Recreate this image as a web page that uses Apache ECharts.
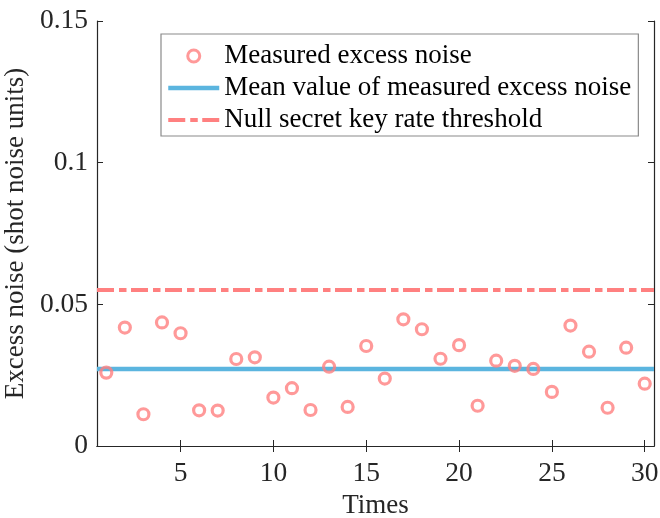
<!DOCTYPE html>
<html>
<head>
<meta charset="utf-8">
<script src="https://cdn.jsdelivr.net/npm/echarts@6/dist/echarts.min.js"></script>
<style>
  html, body { margin: 0; padding: 0; background: #fff; }
  #chart { width: 660px; height: 518px; }
</style>
</head>
<body>
<div id="chart"></div>
<script>
  // measurement index and measured excess noise (SNU)
  const times = [1, 2, 3, 4, 5, 6, 7, 8, 9, 10, 11, 12, 13, 14, 15,
    16, 17, 18, 19, 20, 21, 22, 23, 24, 25, 26, 27, 28, 29, 30];
  const excessNoise = [
    0.0259, 0.0418, 0.0112, 0.0436, 0.0398, 0.0126, 0.0125, 0.0307, 0.0313, 0.0171,
    0.0204, 0.0127, 0.0280, 0.0138, 0.0353, 0.0238, 0.0447, 0.0412, 0.0308, 0.0356,
    0.0142, 0.0301, 0.0283, 0.0272, 0.0191, 0.0425, 0.0333, 0.0135, 0.0347, 0.0220,
  ];
  const meanNoise = 0.0272;
  const nullKeyThreshold = 0.0551;
  const xRange = [0.5, 30.5];
  const xTicks = [5, 10, 15, 20, 25, 30];

  const names = [
    'Measured excess noise',
    'Mean value of measured excess noise',
    'Null secret key rate threshold',
  ];

  const red = '#FF8080';
  const blue = '#5BB5DF';
  const ink = '#262626';
  const font = "'Liberation Serif', 'DejaVu Serif', serif";

  const chart = echarts.init(document.getElementById('chart'));

  const axisLine = { show: true, lineStyle: { color: ink, width: 1.2 } };
  const tick = { show: true, inside: true, length: 6, lineStyle: { color: ink, width: 1 } };
  const noDot = { color: 'rgba(0,0,0,0)', borderWidth: 0 };
  const dashDot = [17, 5, 7.5, 4.5];

  const option = {
    animation: false,
    textStyle: { fontFamily: font },
    grid: { left: 97, right: 6, top: 21, bottom: 72, containLabel: false, outerBoundsMode: 'none' },
    legend: {
      orient: 'vertical',
      left: 161,
      top: 34,
      itemWidth: 51,
      itemHeight: 12,
      itemGap: 2,
      padding: [7, 7, 1, 5],
      borderColor: '#8a8a8a',
      borderWidth: 1.2,
      backgroundColor: '#fff',
      textStyle: { fontFamily: font, fontSize: 27, color: '#000', lineHeight: 30 },
      data: [
        { name: names[0], icon: 'circle', itemStyle: { color: 'rgba(0,0,0,0)', borderColor: red, borderWidth: 3 } },
        { name: names[1], itemStyle: noDot, lineStyle: { color: blue, width: 4.5 } },
        { name: names[2], itemStyle: noDot, lineStyle: { color: red, width: 4, type: dashDot } },
      ],
    },
    xAxis: [
      {
        type: 'value',
        min: xRange[0],
        max: xRange[1],
        name: 'Times',
        nameLocation: 'middle',
        nameGap: 46,
        nameTextStyle: { fontFamily: font, fontSize: 27, color: ink },
        axisLine: axisLine,
        axisTick: Object.assign({ customValues: xTicks }, tick),
        axisLabel: { customValues: xTicks, fontFamily: font, fontSize: 27.5, color: ink, margin: 14 },
        splitLine: { show: false },
      },
      {
        type: 'value',
        position: 'top',
        min: xRange[0],
        max: xRange[1],
        axisLine: axisLine,
        axisTick: Object.assign({ customValues: xTicks }, tick),
        axisLabel: { show: false },
        splitLine: { show: false },
      },
    ],
    yAxis: [
      {
        type: 'value',
        min: 0,
        max: 0.15,
        interval: 0.05,
        name: 'Excess noise (shot noise units)',
        nameLocation: 'middle',
        nameGap: 63,
        nameTextStyle: { fontFamily: font, fontSize: 27, color: ink },
        axisLine: axisLine,
        axisTick: tick,
        axisLabel: { fontFamily: font, fontSize: 27.5, color: ink, margin: 9 },
        splitLine: { show: false },
      },
      {
        type: 'value',
        position: 'right',
        min: 0,
        max: 0.15,
        interval: 0.05,
        axisLine: axisLine,
        axisTick: tick,
        axisLabel: { show: false },
        splitLine: { show: false },
      },
    ],
    series: [
      {
        name: names[0],
        type: 'scatter',
        z: 5,
        symbol: 'circle',
        symbolSize: 11,
        itemStyle: { color: 'rgba(0,0,0,0)', borderColor: red, borderWidth: 3.2 },
        data: times.map((t, i) => [t, excessNoise[i]]),
      },
      {
        name: names[1],
        type: 'line',
        z: 3,
        symbol: 'none',
        color: blue,
        lineStyle: { color: blue, width: 4.5 },
        data: xRange.map((x) => [x, meanNoise]),
      },
      {
        name: names[2],
        type: 'line',
        z: 3,
        symbol: 'none',
        color: red,
        lineStyle: { color: red, width: 4, type: dashDot },
        data: xRange.map((x) => [x, nullKeyThreshold]),
      },
    ],
  };

  chart.setOption(option);
</script>
</body>
</html>
